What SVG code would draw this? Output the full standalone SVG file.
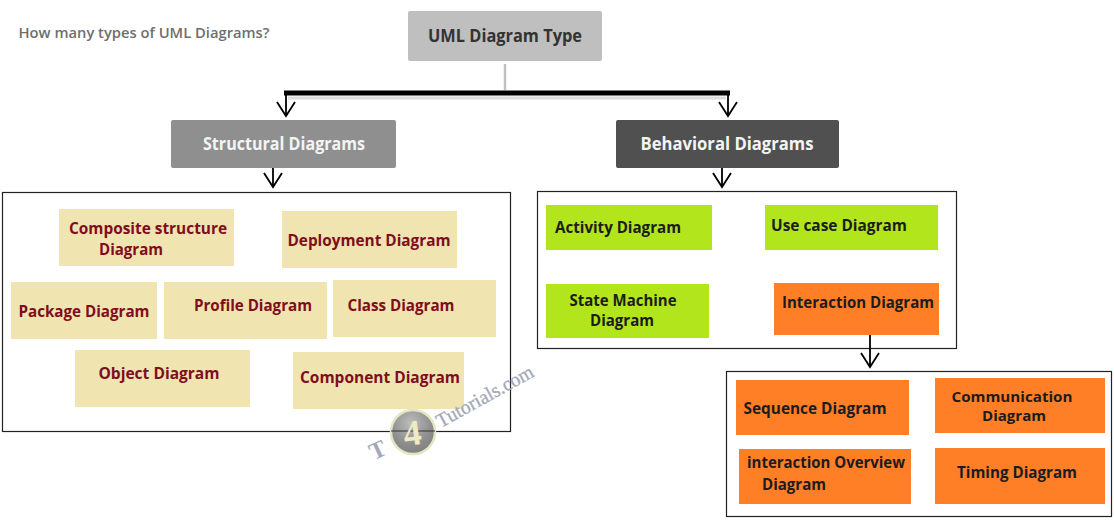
<svg xmlns="http://www.w3.org/2000/svg" width="1114" height="522" viewBox="0 0 1114 522">
<style>
text{font-family:"Open Sans","Liberation Sans",sans-serif;font-weight:700;text-anchor:middle}
.m{font-size:16px;fill:#800c20}
.k{font-size:16px;fill:#1c1c1c}
.t{font-size:17px}
.y{fill:#f0e4b0}.g{fill:#b2e51b}.o{fill:#ff7f27}
.box{fill:#fff;stroke:#222;stroke-width:1.2}
.c{fill:none;stroke:#000;stroke-width:1.8}
.w{font-family:"Liberation Serif",serif;font-weight:700;fill:#a3a8b8}
</style>
<defs><radialGradient id="b" cx="0.45" cy="0.3" r="0.75"><stop offset="0" stop-color="#bdbdbd"/><stop offset="0.6" stop-color="#8f8f8f"/><stop offset="1" stop-color="#7d7d7d"/></radialGradient></defs>
<text x="144" y="38" style="font-size:14px;font-weight:600;fill:#6e6e6e" textLength="251" lengthAdjust="spacingAndGlyphs">How many types of UML Diagrams?</text>

<g id="containers">
<rect class="box" x="2.5" y="192.5" width="508" height="239"/>
<rect class="box" x="537.5" y="191.5" width="419" height="157"/>
<rect class="box" x="726.5" y="371.5" width="385" height="145"/>
</g>

<g id="connectors">
<line x1="505" y1="64" x2="505" y2="90" stroke="#c0c0c0" stroke-width="2.5"/>
<path d="M288 98H726" fill="none" stroke="#dcdcdc" stroke-width="3"/>
<path d="M284 93H730" fill="none" stroke="#000" stroke-width="5"/>
<path class="c" d="M286 93V116M277 102L286 116L295 102"/>
<path class="c" d="M728 93V116M719 102L728 116L737 102"/>
<path class="c" d="M273 164V187M264 173L273 187L282 173"/>
<path class="c" d="M722 164V187M713 173L722 187L731 173"/>
<path class="c" d="M870 334V367M861 353L870 367L879 353"/>
</g>

<g id="uml-type"><rect x="408" y="11" width="194" height="50" rx="2" fill="#bfbfbf"/><text x="505" y="42" class="t" fill="#333" textLength="154" lengthAdjust="spacingAndGlyphs">UML Diagram Type</text></g>
<g id="structural"><rect x="171" y="120" width="225" height="48" rx="2" fill="#8f8f8f"/><text x="284" y="150" class="t" fill="#f4f4f4" textLength="162" lengthAdjust="spacingAndGlyphs">Structural Diagrams</text></g>
<g id="behavioral"><rect x="616" y="120" width="223" height="48" rx="2" fill="#505050"/><text x="727" y="150" class="t" fill="#f4f4f4" textLength="173" lengthAdjust="spacingAndGlyphs">Behavioral Diagrams</text></g>

<g id="composite"><rect class="y" x="59" y="209" width="175" height="57"/><text class="m" x="148" y="234" textLength="158" lengthAdjust="spacingAndGlyphs">Composite structure</text><text class="m" x="131" y="255" textLength="64" lengthAdjust="spacingAndGlyphs">Diagram</text></g>
<g id="deployment"><rect class="y" x="282" y="211" width="175" height="57"/><text class="m" x="369" y="246" textLength="163" lengthAdjust="spacingAndGlyphs">Deployment Diagram</text></g>
<g id="package"><rect class="y" x="11" y="282" width="146" height="57"/><text class="m" x="84" y="317" textLength="131" lengthAdjust="spacingAndGlyphs">Package Diagram</text></g>
<g id="profile"><rect class="y" x="164" y="282" width="163" height="57"/><text class="m" x="253" y="311" textLength="118" lengthAdjust="spacingAndGlyphs">Profile Diagram</text></g>
<g id="class"><rect class="y" x="333" y="280" width="163" height="57"/><text class="m" x="401" y="311" textLength="107" lengthAdjust="spacingAndGlyphs">Class Diagram</text></g>
<g id="object"><rect class="y" x="75" y="350" width="175" height="57"/><text class="m" x="159" y="379" textLength="121" lengthAdjust="spacingAndGlyphs">Object Diagram</text></g>
<g id="component"><rect class="y" x="293" y="352" width="171" height="57"/><text class="m" x="380" y="383" textLength="160" lengthAdjust="spacingAndGlyphs">Component Diagram</text></g>

<g id="activity"><rect class="g" x="546" y="205" width="166" height="45"/><text class="k" x="618" y="233" textLength="126" lengthAdjust="spacingAndGlyphs">Activity Diagram</text></g>
<g id="usecase"><rect class="g" x="765" y="205" width="173" height="45"/><text class="k" x="839" y="231" textLength="136" lengthAdjust="spacingAndGlyphs">Use case Diagram</text></g>
<g id="state"><rect class="g" x="546" y="284" width="163" height="54"/><text class="k" x="623" y="306" textLength="107" lengthAdjust="spacingAndGlyphs">State Machine</text><text class="k" x="622" y="326" textLength="64" lengthAdjust="spacingAndGlyphs">Diagram</text></g>
<g id="interaction"><rect class="o" x="774" y="283" width="165" height="52"/><text class="k" x="858" y="308" textLength="152" lengthAdjust="spacingAndGlyphs">Interaction Diagram</text></g>

<g id="sequence"><rect class="o" x="736" y="380" width="173" height="55"/><text class="k" x="815" y="414" textLength="143" lengthAdjust="spacingAndGlyphs">Sequence Diagram</text></g>
<g id="communication"><rect class="o" x="935" y="378" width="170" height="55"/><text class="k" x="1012" y="402" style="font-size:14.5px" textLength="121" lengthAdjust="spacingAndGlyphs">Communication</text><text class="k" x="1014" y="421" style="font-size:14.5px" textLength="64" lengthAdjust="spacingAndGlyphs">Diagram</text></g>
<g id="overview"><rect class="o" x="739" y="449" width="172" height="55"/><text class="k" x="826" y="468" textLength="158" lengthAdjust="spacingAndGlyphs">interaction Overview</text><text class="k" x="794" y="490" textLength="64" lengthAdjust="spacingAndGlyphs">Diagram</text></g>
<g id="timing"><rect class="o" x="935" y="448" width="170" height="56"/><text class="k" x="1017" y="478" textLength="120" lengthAdjust="spacingAndGlyphs">Timing Diagram</text></g>

<g id="watermark">
<circle cx="413" cy="432" r="22" fill="url(#b)" stroke="#dfe8c0" stroke-width="2.5"/>
<line x1="391" y1="431" x2="435" y2="431" stroke="#333" stroke-width="1"/>
<text x="412" y="445" transform="rotate(-8 412 432)" style="font-family:'Liberation Serif',serif;font-size:36px;fill:#efe9c4">4</text>
<text x="381" y="457" transform="rotate(-25 381 457)" class="w" style="font-size:24px">T</text>
<text x="488" y="402" transform="rotate(-29 488 402)" class="w" style="font-size:20px;font-weight:400;stroke:#a3a8b8;stroke-width:0.3" textLength="108" lengthAdjust="spacingAndGlyphs">Tutorials.com</text>
</g>
</svg>
